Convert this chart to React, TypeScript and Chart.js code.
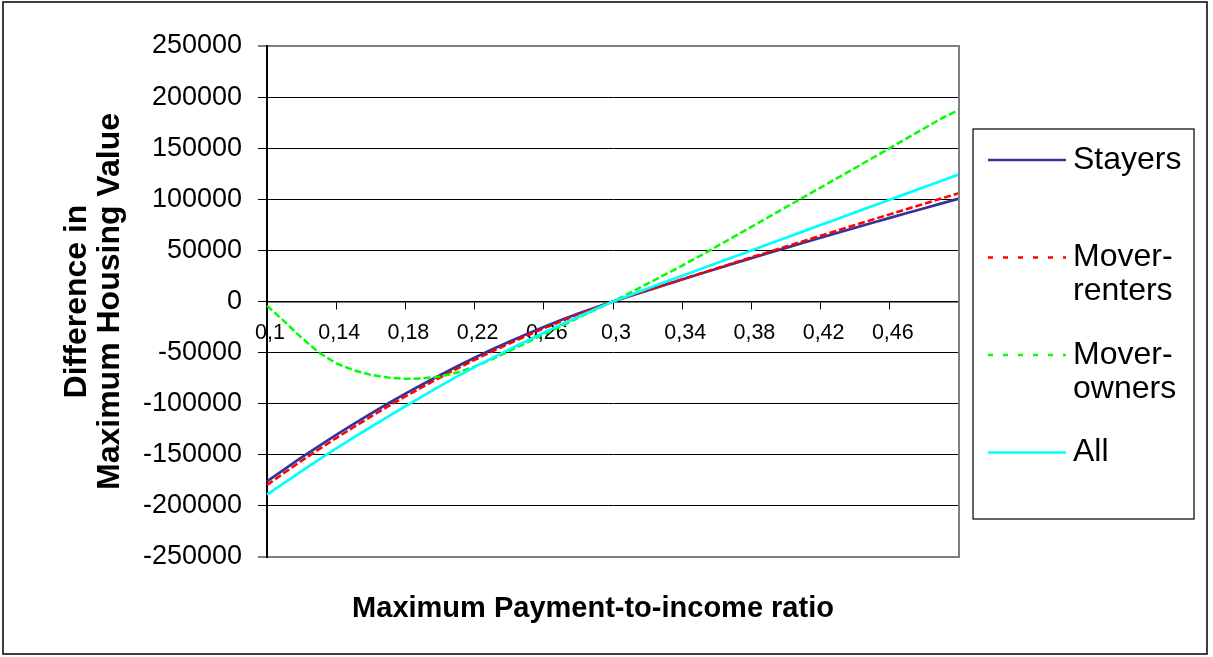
import { useEffect, useRef } from 'react';
import { Chart, registerables } from 'chart.js';

Chart.register(...registerables);

// Maximum payment-to-income ratio (category axis)
const ratios = [
  0.1, 0.11, 0.12, 0.13, 0.14, 0.15, 0.16, 0.17, 0.18, 0.19,
  0.2, 0.21, 0.22, 0.23, 0.24, 0.25, 0.26, 0.27, 0.28, 0.29,
  0.3, 0.31, 0.32, 0.33, 0.34, 0.35, 0.36, 0.37, 0.38, 0.39,
  0.4, 0.41, 0.42, 0.43, 0.44, 0.45, 0.46, 0.47, 0.48, 0.49, 0.5,
];

// Difference in maximum housing value per group
const stayers = [
  -176000, -164200, -152600, -141400, -130600, -120000, -109800, -99800, -90200, -81000,
  -72000, -63300, -55000, -47000, -39300, -32000, -24900, -18200, -11800, -5800,
  0, 5500, 10900, 16300, 21600, 26900, 32100, 37300, 42400, 47500,
  52500, 57500, 62400, 67300, 72200, 77000, 81800, 86600, 91300, 96000, 100700,
];
const moverRenters = [
  -179500, -167600, -155900, -144600, -133700, -123000, -112700, -102600, -92900, -83600,
  -74400, -65600, -57200, -49000, -41200, -33600, -26300, -19400, -12600, -6200,
  0, 5500, 11000, 16400, 21800, 27200, 32500, 37900, 43200, 48500,
  53800, 59100, 64400, 69600, 74900, 80100, 85300, 90500, 95700, 100900, 106000,
];
const moverOwners = [
  -4000, -19500, -35500, -50000, -60500, -67200, -71800, -74400, -75700, -75300,
  -73400, -69500, -63800, -56500, -48500, -40300, -32200, -24100, -16000, -8000,
  0, 8700, 17500, 26300, 35200, 44300, 53900, 63500, 73100, 82700,
  92300, 101900, 111500, 121100, 130700, 140400, 150100, 159800, 169500, 179200, 187500,
];
const allHouseholds = [
  -189000, -177500, -166000, -154800, -143800, -133200, -122800, -112600, -102500, -92600,
  -82800, -73300, -64200, -55400, -46800, -38600, -30500, -22600, -14900, -7400,
  0, 6400, 12700, 19000, 25200, 31400, 37600, 43800, 50000, 56200,
  62400, 68600, 74800, 81000, 87200, 93400, 99600, 105800, 112000, 118200, 124400,
];

const seriesNames = ['Stayers', 'Mover-renters', 'Mover-owners', 'All'];
const legendLines = [['Stayers'], ['Mover-', 'renters'], ['Mover-', 'owners'], ['All']];
const xTitle = 'Maximum Payment-to-income ratio';
const yTitle = ['Difference in', 'Maximum Housing Value'];
const yMin = -250000;
const yMax = 250000;
const yStep = 50000;

const FONT = "'Liberation Sans', Arial, Helvetica, sans-serif";

const formatRatio = (r: number) => String(r).replace('.', ',');

// Background, outer frame, plot border, x-axis title and boxed legend
const framePlugin = {
  id: 'frame',
  beforeDraw(chart: any) {
    const { ctx, width, height } = chart;
    ctx.save();
    ctx.fillStyle = '#ffffff';
    ctx.fillRect(0, 0, width, height);
    ctx.restore();
  },
  afterDraw(chart: any) {
    const { ctx, chartArea: a } = chart;
    ctx.save();

    // right edge of plot area
    ctx.strokeStyle = '#808080';
    ctx.lineWidth = 2;
    ctx.beginPath();
    ctx.moveTo(a.right, a.top - 1);
    ctx.lineTo(a.right, a.bottom + 1);
    ctx.stroke();

    // outer frame
    ctx.strokeStyle = '#000000';
    ctx.lineWidth = 1.5;
    ctx.strokeRect(3, 2, 1204, 652);

    // x-axis title
    ctx.fillStyle = '#000000';
    ctx.font = `bold 29px ${FONT}`;
    ctx.textAlign = 'center';
    ctx.textBaseline = 'middle';
    ctx.fillText(xTitle, 593, 609);

    // legend box
    ctx.lineWidth = 1.2;
    ctx.strokeStyle = '#000000';
    ctx.strokeRect(973, 129, 221, 390);

    ctx.font = `32px ${FONT}`;
    ctx.textAlign = 'left';
    chart.data.datasets.forEach((ds: any, i: number) => {
      const y = 160 + i * 97.5;
      ctx.save();
      ctx.strokeStyle = ds.borderColor;
      ctx.lineWidth = 2.5;
      ctx.setLineDash(ds.borderDash && ds.borderDash.length ? [5, 10] : []);
      ctx.beginPath();
      ctx.moveTo(988, y);
      ctx.lineTo(1066, y);
      ctx.stroke();
      ctx.restore();
      legendLines[i].forEach((line, j) => {
        ctx.fillText(line, 1073, y + j * 34);
      });
    });

    ctx.restore();
  },
};

export default function App() {
  const canvasRef = useRef<HTMLCanvasElement | null>(null);

  useEffect(() => {
    const canvas = canvasRef.current;
    if (!canvas) return;
    Chart.defaults.font.family = FONT;
    Chart.defaults.color = '#000000';

    const lastIndex = ratios.length - 1;

    const chart = new Chart(canvas, {
      type: 'line',
      data: {
        labels: ratios.map(formatRatio),
        datasets: [
          {
            label: seriesNames[0],
            data: stayers,
            borderColor: '#333399',
            borderWidth: 2.7,
            pointRadius: 0,
            fill: false,
            order: 4,
          },
          {
            label: seriesNames[1],
            data: moverRenters,
            borderColor: '#ff0000',
            borderWidth: 2.5,
            borderDash: [7, 3],
            pointRadius: 0,
            fill: false,
            order: 3,
          },
          {
            label: seriesNames[2],
            data: moverOwners,
            borderColor: '#00ff00',
            borderWidth: 2.5,
            borderDash: [7, 3],
            pointRadius: 0,
            fill: false,
            order: 2,
          },
          {
            label: seriesNames[3],
            data: allHouseholds,
            borderColor: '#00ffff',
            borderWidth: 2.7,
            pointRadius: 0,
            fill: false,
            order: 1,
          },
        ],
      },
      options: {
        responsive: false,
        animation: false,
        layout: { padding: { left: 0, top: 46, right: 254, bottom: 100 } },
        plugins: {
          legend: { display: false },
          tooltip: { enabled: false },
          title: { display: false },
        },
        scales: {
          x: {
            type: 'category',
            position: { y: 0 } as any,
            offset: false,
            grid: {
              display: true,
              drawOnChartArea: false,
              drawTicks: true,
              tickLength: 7,
              tickColor: (c: any) => (c.index % 4 === 0 ? '#000000' : 'rgba(0,0,0,0)'),
              lineWidth: 1,
            },
            border: { display: true, color: '#000000', width: 1.5 },
            ticks: {
              autoSkip: false,
              maxRotation: 0,
              minRotation: 0,
              padding: 12,
              labelOffset: 3,
              color: '#000000',
              font: { size: 21.5, family: FONT },
              callback: (_v: any, index: number) =>
                index % 4 === 0 && index !== lastIndex ? formatRatio(ratios[index]) : '',
            },
          },
          y: {
            type: 'linear',
            position: 'left',
            min: yMin,
            max: yMax,
            afterFit: (scale: any) => {
              scale.width = 267;
            },
            grid: {
              color: (c: any) =>
                c.tick && Math.abs(c.tick.value) === yMax ? '#808080' : '#000000',
              lineWidth: (c: any) => (c.tick && Math.abs(c.tick.value) === yMax ? 2 : 1),
              tickColor: '#000000',
              tickLength: 9,
              tickWidth: 1,
            },
            border: { display: true, color: '#000000', width: 2 },
            ticks: {
              stepSize: yStep,
              padding: 16,
              color: '#000000',
              font: { size: 27, family: FONT },
              callback: (v: any) => String(v),
            },
            title: {
              display: true,
              text: yTitle,
              color: '#000000',
              font: { size: 32, weight: 'bold', family: FONT, lineHeight: 1.05 },
              padding: { top: 60, bottom: 0 },
            },
          },
        },
      },
      plugins: [framePlugin],
    });

    return () => chart.destroy();
  }, []);

  return (
    <div style={{ position: 'absolute', left: 0, top: 0, width: 1213, height: 657 }}>
      <canvas ref={canvasRef} width={1213} height={657} />
    </div>
  );
}
